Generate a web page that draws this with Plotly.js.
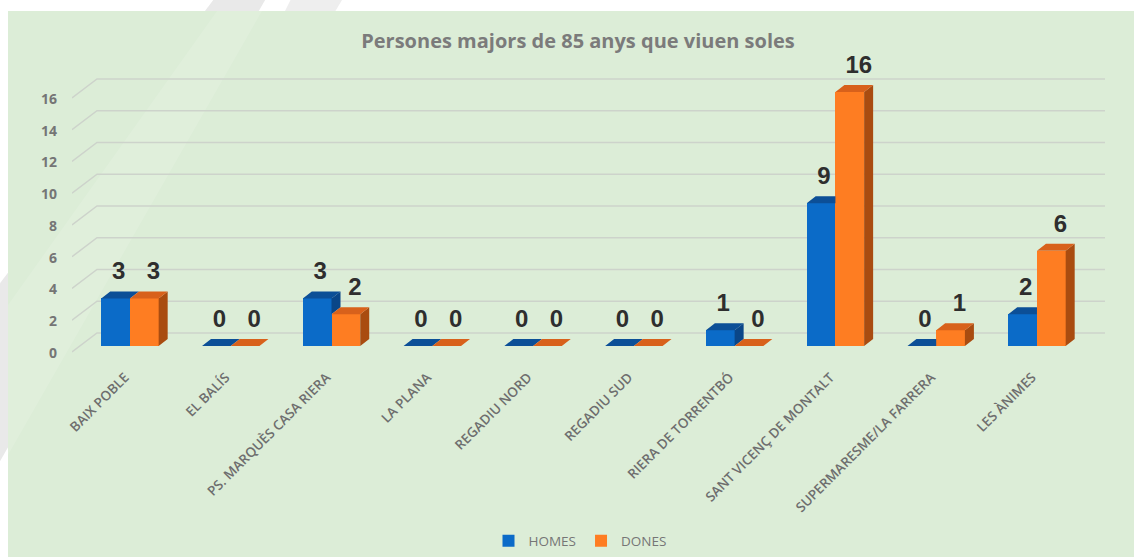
<!DOCTYPE html>
<html>
<head>
<meta charset="utf-8">
<script src="https://cdn.plot.ly/plotly-3.0.1.min.js"></script>
<style>html,body{margin:0;padding:0;background:#fff;}#chart{width:1134px;height:557px;}</style>
</head>
<body>
<div id="chart"></div>
<script>
// ---- data ----
const categories = ["BAIX POBLE","EL BALÍS","PS. MARQUÈS CASA RIERA","LA PLANA","REGADIU NORD","REGADIU SUD","RIERA DE TORRENTBÓ","SANT VICENÇ DE MONTALT","SUPERMARESME/LA FARRERA","LES ÀNIMES"];
const homes = [3,0,3,0,0,0,1,9,0,2];
const dones = [3,0,2,0,0,0,0,16,1,6];
const yTicks = [0,2,4,6,8,10,12,14,16];
const seriesNames = ["HOMES","DONES"];
const chartTitle = "Persones majors de 85 anys que viuen soles";

// ---- geometry / style ----
const W = 1134, H = 557;
const mL = 72, mR = 29, mT = 55, mB = 197;
const plotW = W - mL - mR, plotH = H - mT - mB;
const pxPerX = 100.78, pxPerY = 15.875;
const xMin = -0.575, xMax = xMin + plotW / pxPerX;
const yBottomPx = 360, zeroPx = 346;
const yMin = -(yBottomPx - zeroPx) / pxPerY;
const yMax = yMin + plotH / pxPerY;
const BW = 0.285;             // bar width (x units)
const DX = 9 / pxPerX;        // depth in x
const DY = 7 / pxPerY;        // depth in y
const C = {
  blueFront: "#0b6bc8", blueTop: "#0c4f97", blueSide: "#0a4688",
  orFront: "#fe7d22", orTop: "#d8611b", orSide: "#a94c10",
  green: "#dcedd7", grid: "#cdd3cb", label: "#2e2e2e", axis: "#757575"
};
const idx = categories.map((_, i) => i);

// paper coordinate helpers
const pxX = p => (p - mL) / plotW;
const pxY = p => (mT + plotH - p) / plotH;

// ---- faces (computed from data) ----
function poly(list) { const xs = [], ys = []; list.forEach(pts => { pts.forEach(p => { xs.push(p[0]); ys.push(p[1]); }); xs.push(null); ys.push(null); }); return {xs, ys}; }

const blueTops = [], blueSides = [], orTops = [], orSides = [];
idx.forEach(i => {
  const vb = homes[i], vo = dones[i];
  const c = i;
  if (vo > vb) {
    blueTops.push([[c - BW, vb], [c, vb], [c, vb + DY], [c - BW + DX, vb + DY]]);
  } else {
    blueTops.push([[c - BW, vb], [c, vb], [c + DX, vb + DY], [c - BW + DX, vb + DY]]);
  }
  if (vb > vo) {
    blueSides.push([[c, vo], [c, vb], [c + DX, vb + DY], [c + DX, vo + DY]]);
  }
  orTops.push([[c, vo], [c + BW, vo], [c + BW + DX, vo + DY], [c + DX, vo + DY]]);
  if (vo > 0) orSides.push([[c + BW, 0], [c + BW, vo], [c + BW + DX, vo + DY], [c + BW + DX, DY]]);
});

function faceTrace(list, color) {
  const p = poly(list);
  return {type: "scatter", mode: "lines", x: p.xs, y: p.ys, fill: "toself", fillcolor: color,
    line: {width: 0, color: color}, hoverinfo: "skip", showlegend: false};
}

const labelFont = {family: "Liberation Sans, Arial, sans-serif", size: 24, color: C.label, weight: "bold"};
const traces = [
  {type: "bar", name: seriesNames[0], x: idx, y: homes, width: BW, offset: -BW,
    marker: {color: C.blueFront, line: {width: 0}}},
  {type: "bar", name: seriesNames[1], x: idx, y: dones, width: BW, offset: 0,
    marker: {color: C.orFront, line: {width: 0}}},
  faceTrace(blueTops, C.blueTop),
  faceTrace(blueSides, C.blueSide),
  faceTrace(orSides, C.orSide),
  faceTrace(orTops, C.orTop),
  {type: "scatter", mode: "text", x: idx.map(i => i - BW / 2 + 3 / pxPerX), y: homes.map(v => v + 25 / pxPerY),
    text: homes.map(String), textposition: "middle center", cliponaxis: false, textfont: labelFont,
    hoverinfo: "skip", showlegend: false},
  {type: "scatter", mode: "text", x: idx.map(i => i + BW / 2 + 9 / pxPerX), y: dones.map(v => v + 25 / pxPerY),
    text: dones.map(String), textposition: "middle center", cliponaxis: false, textfont: labelFont,
    hoverinfo: "skip", showlegend: false}
];

// ---- shapes: background, watermark, 3D gridlines ----
const shapes = [];
function band(pts, color, opacity) {
  const d = "M" + pts.map(p => pxX(p[0]) + "," + pxY(p[1])).join(" L") + " Z";
  return {type: "path", xref: "paper", yref: "paper", path: d, fillcolor: color, opacity: opacity, line: {width: 0}, layer: "below"};
}
shapes.push(band([[217, -5], [268, -5], [-5, 470], [-5, 290]], "#e9e9e9", 1));
shapes.push(band([[293, -5], [345, -5], [333, 15], [283, 15]], "#eeeeee", 1));
shapes.push({type: "rect", xref: "paper", yref: "paper", x0: pxX(8), x1: pxX(1140), y0: pxY(565), y1: pxY(11),
  fillcolor: C.green, line: {width: 0}, layer: "below"});
shapes.push(band([[217, 11], [262, 11], [8, 455], [8, 305]], "#ffffff", 0.12));
const backX0 = xMin + 25 / pxPerX;
yTicks.forEach(v => {
  shapes.push({type: "path", xref: "x", yref: "y", layer: "below",
    path: "M" + xMin + "," + (v - 6 / pxPerY) + " L" + backX0 + "," + (v + 13 / pxPerY) + " L" + xMax + "," + (v + 13 / pxPerY),
    line: {color: C.grid, width: 1.4}});
});

const layout = {
  width: W, height: H,
  margin: {l: mL, r: mR, t: mT, b: mB, pad: 0, autoexpand: false},
  paper_bgcolor: "#ffffff", plot_bgcolor: "rgba(0,0,0,0)",
  title: {text: chartTitle, x: pxX(578), xref: "paper", xanchor: "center", y: 1 - 41 / H, yanchor: "middle",
    font: {family: "Open Sans, sans-serif", size: 20, color: "#7b7b7b", weight: "bold"}},
  barmode: "overlay", bargap: 0,
  showlegend: true,
  legend: {orientation: "h", x: pxX(580), xanchor: "center", y: pxY(541), yanchor: "middle",
    font: {family: "Open Sans, sans-serif", size: 13.5, color: "#767676"}, bgcolor: "rgba(0,0,0,0)",
    itemwidth: 30, traceorder: "normal"},
  xaxis: {type: "linear", range: [xMin, xMax], tickvals: idx, ticktext: categories, tickangle: -45,
    showgrid: false, zeroline: false, showline: false, ticks: "", fixedrange: true, automargin: false,
    ticklabelshift: -5, ticklabelstandoff: 6,
    tickfont: {family: "Open Sans, sans-serif", size: 13.5, color: "#6e6e6e", weight: 600}},
  yaxis: {type: "linear", range: [yMin, yMax], tickvals: yTicks, ticktext: yTicks.map(String),
    showgrid: false, zeroline: false, showline: false, ticks: "", fixedrange: true, automargin: false,
    ticklabelshift: 7, ticklabelstandoff: 14,
    tickfont: {family: "Open Sans, sans-serif", size: 14, color: C.axis, weight: "bold"}},
  shapes: shapes
};

Plotly.newPlot("chart", traces, layout, {displayModeBar: false, staticPlot: true});
</script>
</body>
</html>
